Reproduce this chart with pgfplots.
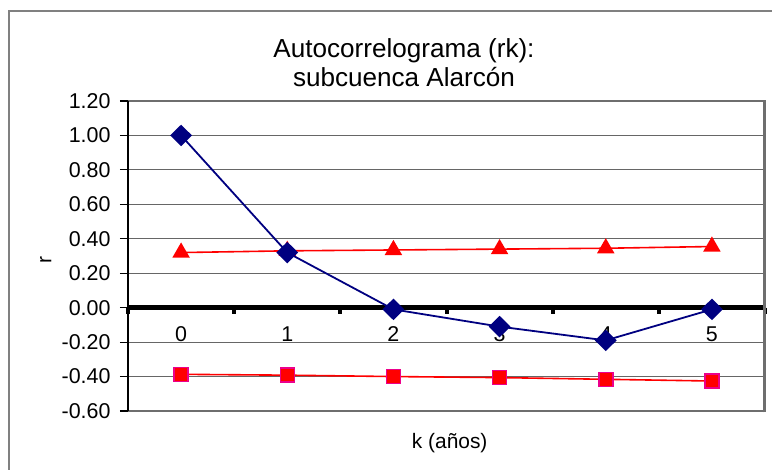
\documentclass[border=0pt]{standalone}
\usepackage{pgfplots}
\pgfplotsset{compat=1.18}
\usepackage{fontspec}
\setmainfont{Liberation Sans}
\definecolor{navyx}{RGB}{0,0,128}
\definecolor{bordergray}{RGB}{110,110,110}
\begin{document}
\begin{tikzpicture}
\useasboundingbox (0bp,0bp) rectangle (772bp,470bp);
\draw[black!50, line width=1.2bp] (9bp,-5bp) -- (9bp,459bp) -- (780bp,459bp);
\node[font=\fontsize{26.2}{28}\selectfont, anchor=base, inner sep=0pt] at (404bp,412bp) {Autocorrelograma (rk):};
\node[font=\fontsize{26.2}{28}\selectfont, anchor=base, inner sep=0pt] at (404bp,383.3bp) {subcuenca Alarcón};
\begin{axis}[
  at={(128bp,59bp)}, anchor=south west,
  scale only axis, width=637bp, height=310bp,
  xmin=-0.5, xmax=5.5, ymin=-0.6, ymax=1.2,
  axis line style={draw=none},
  ytick={-0.6,-0.4,-0.2,0,0.2,0.4,0.6,0.8,1.0,1.2},
  xtick={0,1,2,3,4,5},
  ytick pos=left,
  xtick style={draw=none},
  ytick style={black, line width=1.2bp},
  tick align=outside,
  major tick length=8bp,
  ymajorgrids,
  grid style={black!60, line width=1.1bp},
  ticklabel style={font=\fontsize{21.5}{24}\selectfont},
  /pgf/number format/assume math mode=true,
  yticklabel style={/pgf/number format/.cd, fixed, fixed zerofill, precision=2, /tikz/xshift=-6bp},
  xticklabel style={anchor=center, yshift=85bp},
  xlabel={k (años)},
  ylabel={r},
  xlabel style={font=\fontsize{21}{24}\selectfont, at={(axis description cs:0.505,-0.103)}, anchor=center},
  ylabel style={font=\fontsize{21}{24}\selectfont, at={(axis description cs:-0.129,0.487)}, anchor=center, rotate=0},
  clip=false,
]
\addplot[black, line width=5.5bp, forget plot] coordinates {(-0.5,0) (5.5,0)};
\pgfplotsinvokeforeach{-0.5,0.5,1.5,2.5,3.5,4.5,5.5}{
  \draw[black, line width=4bp] (axis cs:#1,0) -- ([yshift=-6.5bp]axis cs:#1,0);
}
\draw[bordergray, line width=2.6bp] (axis cs:-0.5,-0.6) -- (axis cs:5.5,-0.6);
\draw[bordergray, line width=2.6bp] (axis cs:-0.5,1.2) -- (axis cs:5.5,1.2);
\draw[black, line width=1.3bp] (axis cs:-0.5,-0.6) -- (axis cs:-0.5,1.2);
% upper band (triangles)
\addplot[red, line width=1.6bp, mark=triangle*, mark size=8.5bp, mark options={red, solid}]
  coordinates {(0,0.32) (1,0.33) (2,0.335) (3,0.34) (4,0.345) (5,0.355)};
% lower band (squares)
\addplot[red, line width=1.6bp, mark=square*, mark size=7bp, mark options={fill=red, draw=magenta, line width=1.5bp, solid}]
  coordinates {(0,-0.387) (1,-0.392) (2,-0.40) (3,-0.406) (4,-0.416) (5,-0.426)};
% autocorrelation
\addplot[navyx, line width=1.8bp, mark=diamond*, mark size=9.5bp, mark options={navyx, solid, xscale=1.35}]
  coordinates {(0,1.00) (1,0.32) (2,-0.01) (3,-0.11) (4,-0.19) (5,-0.01)};
\end{axis}
\draw[bordergray, line width=3.5bp] (764.5bp,57.7bp) -- (764.5bp,370.3bp);
\end{tikzpicture}
\end{document}
